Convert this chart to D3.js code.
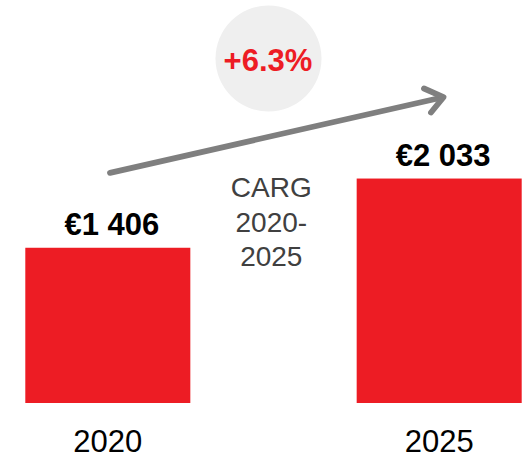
<!DOCTYPE html>
<html>
<head>
<meta charset="utf-8">
<script src="https://cdn.jsdelivr.net/npm/d3@7"></script>
<style>
  html, body { margin: 0; padding: 0; background: #fff; }
  svg { display: block; font-family: "Liberation Sans", Arial, sans-serif; }
</style>
</head>
<body>
<div id="chart"></div>
<script>
// chart values
var years = ['2020', '2025'];
var values = [1406, 2033];
var valueLabels = ['€1 406', '€2 033'];
var growthLabel = '+6.3%';
var captionLines = ['CARG', '2020-', '2025'];

var W = 526, H = 456;
var svg = d3.select('#chart').append('svg').attr('width', W).attr('height', H);

// scales
var x = d3.scaleBand().domain(years).range([25.3, 521.7]).paddingInner(0.502).paddingOuter(0);
var y = d3.scaleLinear().domain([0, 3650]).range([403, 0]);

var data = years.map(function(d, i){ return {year: d, value: values[i], label: valueLabels[i]}; });

// bars
svg.append('g').selectAll('rect').data(data).enter().append('rect')
    .attr('x', function(d){ return x(d.year); })
    .attr('y', function(d){ return y(d.value); })
    .attr('width', x.bandwidth())
    .attr('height', function(d){ return y(0) - y(d.value); })
    .attr('fill', '#ed1c24');

// value labels above bars
svg.append('g').selectAll('text').data(data).enter().append('text')
    .attr('x', function(d){ return x(d.year) + x.bandwidth() / 2 + 4; })
    .attr('y', function(d){ return y(d.value) - 12.5; })
    .attr('text-anchor', 'middle')
    .attr('font-size', 31).attr('font-weight', 'bold').attr('fill', '#000')
    .text(function(d){ return d.label; });

// year labels (axis without line/ticks)
var xAxis = svg.append('g').attr('transform', 'translate(0,' + y(0) + ')')
    .call(d3.axisBottom(x).tickSize(0).tickPadding(0));
xAxis.select('.domain').remove();
xAxis.selectAll('text')
    .attr('dy', null).attr('y', 48.5)
    .attr('font-size', 31).attr('font-family', '"Liberation Sans", Arial, sans-serif')
    .attr('fill', '#000');

// growth bubble
svg.append('circle').attr('cx', 268.5).attr('cy', 58.5).attr('r', 53).attr('fill', '#efefef');
svg.append('text').attr('x', 268).attr('y', 70.8).attr('text-anchor', 'middle')
    .attr('font-size', 31).attr('font-weight', 'bold').attr('fill', '#ed1c24')
    .text(growthLabel);

// arrow between bars
var arrow = svg.append('g').attr('stroke', '#7f7f7f').attr('stroke-width', 5.8)
    .attr('stroke-linecap', 'round').attr('stroke-linejoin', 'round').attr('fill', 'none');
arrow.append('line').attr('x1', 110).attr('y1', 172.8).attr('x2', 442).attr('y2', 97.5);
arrow.append('polyline').attr('points', '424,88.5 443.5,97.2 431,112.5');

// caption
svg.append('text').attr('text-anchor', 'middle').attr('font-size', 28).attr('fill', '#404040')
  .selectAll('tspan').data(captionLines).enter().append('tspan')
    .attr('x', 271.3)
    .attr('y', function(d, i){ return 196.7 + i * 34.8; })
    .text(function(d){ return d; });
</script>
</body>
</html>
